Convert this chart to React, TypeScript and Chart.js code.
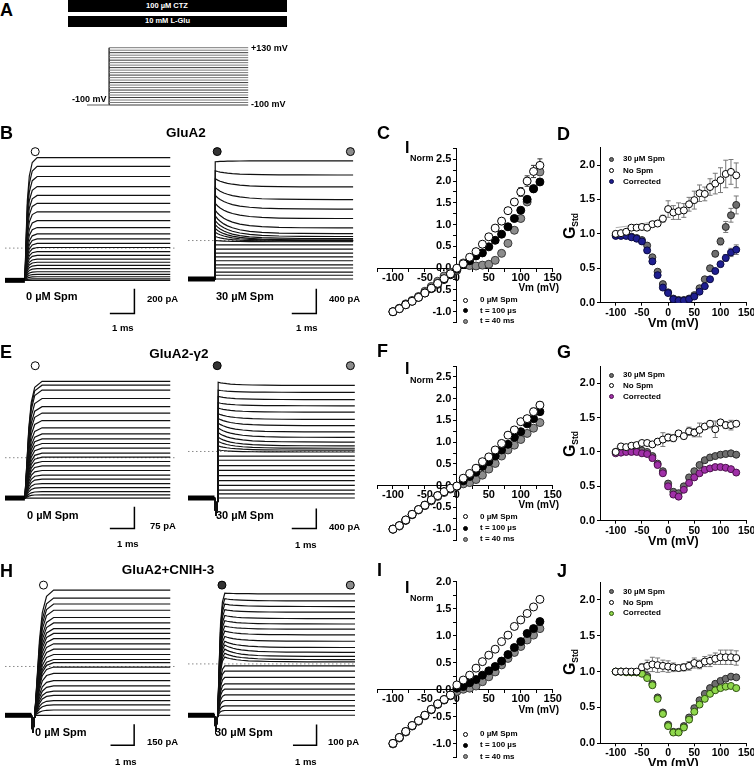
import React, { useEffect, useRef } from "react";
import { Chart, registerables } from "chart.js";

Chart.register(...registerables);

const FONT = "'Liberation Sans', Arial, Helvetica, sans-serif";
Chart.defaults.font.family = FONT;
Chart.defaults.color = "#000";

// ================= DATA =================
// Step potentials (mV), shared by every panel
const VM = [-100, -90, -80, -70, -60, -50, -40, -30, -20, -10, 0, 10, 20, 30, 40, 50, 60, 70, 80, 90, 100, 110, 120, 130];

// Panel A protocol
const PROTO_HOLD_MV = -100;
const PROTO_T = [0, 0.85, 6.2]; // hold start, step onset, step end (ms)

// Current traces (pA), one value per step potential
const B0_LEVELS = [-262, -250, -233, -213, -192, -167, -141, -115, -90, -59, -28, 5, 38, 75, 115, 167, 223, 295, 364, 428, 500, 582, 664, 736];
const B30_INIT = [-626, -565, -513, -447, -395, -329, -267, -205, -139, -72, 0, 66, 134, 195, 257, 323, 400, 493, 605, 734, 862, 1006, 1135, 1283];
const B30_FINAL = [-626, -565, -513, -447, -395, -329, -267, -205, -139, -72, -20, -10, 0, 10, 31, 66, 113, 205, 359, 513, 667, 873, 1067, 1298];
const E0_LEVELS = [-139, -128, -117, -103, -89, -74, -60, -44, -28, -13, 2, 16, 33, 49, 65, 82, 103, 128, 154, 176, 204, 233, 250, 263];
const E30_INIT = [-937, -855, -779, -684, -589, -486, -380, -285, -177, -95, 32, 114, 203, 285, 380, 475, 570, 665, 760, 874, 982, 1109, 1236, 1394];
const E30_FINAL = [-937, -855, -779, -684, -589, -486, -380, -285, -177, -95, -11, 27, 65, 114, 190, 285, 393, 520, 646, 792, 920, 1045, 1191, 1330];
const H0_LEVELS = [-351, -313, -276, -245, -208, -177, -140, -102, -50, -4, 27, 50, 86, 125, 163, 200, 238, 272, 313, 352, 404, 449, 492, 549];
const H30_INIT = [-247, -224, -202, -176, -149, -121, -96, -65, -35, -9, 33, 51, 71, 91, 109, 132, 158, 182, 208, 233, 261, 288, 314, 340];
const H30_FINAL = [-247, -224, -202, -176, -149, -121, -96, -65, -35, -9, 10, 21, 36, 56, 79, 109, 140, 167, 192, 218, 249, 276, 303, 337];

// Kinetic shape tables (ms after onset, fraction)
const B0_RISE_T = [0, 0.05, 0.1, 0.18, 0.3, 0.5];
const B0_RISE_F = [0, 0.35, 0.65, 0.85, 0.96, 1];
const E0_RISE_T = [0, 0.08, 0.16, 0.26, 0.4, 0.7];
const E0_RISE_F = [0, 0.3, 0.6, 0.82, 0.95, 1];
const H0_RISE_T = [0, 0.1, 0.2, 0.32, 0.5, 0.8];
const H0_RISE_F = [0, 0.3, 0.6, 0.82, 0.95, 1];
const H30_RISE_T = [0, 0.06, 0.12, 0.2, 0.3];
const H30_RISE_F = [0, 0.4, 0.75, 0.93, 1];
const FAST_RISE_T = [0, 0.01];
const FAST_RISE_F = [0, 1];
const SPM_DECAY_T = [0, 0.1, 0.2, 0.35, 0.5, 0.7, 1.0, 1.4, 1.9, 2.6, 3.5, 5.0];
const SPM_DECAY_F = [1, 0.83, 0.7, 0.55, 0.44, 0.33, 0.22, 0.13, 0.07, 0.03, 0.01, 0];
const DIP_T = [0.06, 0.14];

// Trace timing (ms), markers and scale bars (ms, pA)
const B0_TIMES = [0.81, 6.73];
const B30_TIMES = [1.1, 6.73];
const E0_TIMES = [0.81, 6.73];
const E30_TIMES = [1.08, 6.8];
const H0_TIMES = [1.12, 7.0];
const H30_TIMES = [1.12, 7.08];
const E30_DIP = -360;
const H0_DIP = -127;
const H30_DIP = -67;
const B0_MARKS = [{ x: 1.23, y: 784, k: "open" }];
const B30_MARKS = [{ x: 1.19, y: 1448, k: "dark" }, { x: 6.62, y: 1448, k: "gray" }];
const E0_MARKS = [{ x: 1.23, y: 317, k: "open" }];
const E30_MARKS = [{ x: 1.19, y: 1728, k: "dark" }, { x: 6.62, y: 1728, k: "gray" }];
const H0_MARKS = [{ x: 1.63, y: 585, k: "open" }];
const H30_MARKS = [{ x: 1.44, y: 379, k: "dark" }, { x: 6.88, y: 379, k: "gray" }];
const B0_BAR = { x: 5.27, y: -531, dx: 1, dy: 200 };
const B30_BAR = { x: 5.23, y: -1186, dx: 1, dy: 400 };
const E0_BAR = { x: 5.27, y: -244, dx: 1, dy: 75 };
const E30_BAR = { x: 5.23, y: -1549, dx: 1, dy: 400 };
const H0_BAR = { x: 5.47, y: -566, dx: 1, dy: 150 };
const H30_BAR = { x: 5.45, y: -391, dx: 1, dy: 100 };

// Panel C (GluA2 I-V, normalized)
const C_OPEN = [-1.0, -0.93, -0.84, -0.76, -0.67, -0.57, -0.46, -0.35, -0.24, -0.13, 0.0, 0.1, 0.25, 0.38, 0.55, 0.72, 0.92, 1.08, 1.32, 1.52, 1.75, 2.0, 2.22, 2.36];
const C_OPEN_ERR = [0, 0, 0, 0, 0, 0, 0, 0, 0, 0, 0, 0, 0, 0, 0, 0, 0, 0, 0.05, 0.07, 0.1, 0.12, 0.14, 0.15];
const C_T100 = [-1.0, -0.93, -0.84, -0.76, -0.67, -0.57, -0.47, -0.37, -0.26, -0.15, -0.02, 0.09, 0.17, 0.28, 0.35, 0.49, 0.64, 0.78, 0.95, 1.14, 1.33, 1.58, 1.82, 1.98];
const C_T40 = [-1.0, -0.92, -0.82, -0.74, -0.65, -0.53, -0.42, -0.3, -0.18, -0.1, -0.05, 0.12, 0.06, 0.05, 0.07, 0.09, 0.18, 0.34, 0.57, 0.87, 1.14, 1.52, 1.83, 2.21];

// Panel D (GluA2 conductance)
const D_SPM = [0.98, 0.98, 0.98, 0.96, 0.94, 0.91, 0.83, 0.66, 0.45, 0.27, 0.15, 0.06, 0.04, 0.04, 0.06, 0.11, 0.21, 0.34, 0.5, 0.71, 0.89, 1.1, 1.27, 1.42];
const D_SPM_ERR = [0, 0, 0, 0, 0, 0, 0, 0, 0, 0, 0, 0, 0, 0, 0, 0, 0, 0, 0.03, 0.04, 0.05, 0.08, 0.1, 0.13];
const D_NOSPM = [1.0, 1.01, 1.03, 1.09, 1.09, 1.1, 1.09, 1.14, 1.15, 1.22, 1.36, 1.31, 1.33, 1.34, 1.43, 1.49, 1.59, 1.58, 1.68, 1.73, 1.78, 1.87, 1.9, 1.85];
const D_NOSPM_ERR = [0.01, 0.01, 0.02, 0.02, 0.02, 0.02, 0.02, 0.03, 0.03, 0.05, 0.12, 0.1, 0.12, 0.1, 0.1, 0.13, 0.12, 0.1, 0.12, 0.15, 0.18, 0.2, 0.18, 0.18];
const D_CORR = [0.97, 0.97, 0.97, 0.95, 0.93, 0.89, 0.76, 0.6, 0.4, 0.22, 0.14, 0.05, 0.03, 0.03, 0.05, 0.09, 0.16, 0.24, 0.34, 0.46, 0.56, 0.65, 0.73, 0.77];
const D_CORR_ERR = [0, 0, 0, 0, 0, 0, 0, 0, 0, 0, 0, 0, 0, 0, 0, 0, 0, 0, 0, 0, 0.03, 0.05, 0.06, 0.07];
const D_FIT_V = [-100, -70, -40, -10, 0];
const D_FIT_G = [1.09, 1.12, 1.16, 1.22, 1.25];

// Panel F (GluA2-γ2 I-V)
const F_OPEN = [-1.0, -0.92, -0.79, -0.66, -0.55, -0.45, -0.33, -0.23, -0.14, -0.06, -0.01, 0.17, 0.28, 0.4, 0.55, 0.66, 0.82, 0.97, 1.16, 1.28, 1.47, 1.54, 1.7, 1.85];
const F_OPEN_ERR = [0, 0, 0, 0, 0, 0, 0, 0, 0, 0, 0, 0, 0, 0, 0, 0, 0, 0, 0, 0, 0.05, 0.07, 0.08, 0.07];
const F_T100 = [-1.0, -0.92, -0.79, -0.66, -0.55, -0.45, -0.33, -0.23, -0.14, -0.06, -0.01, 0.11, 0.21, 0.31, 0.44, 0.55, 0.68, 0.82, 0.95, 1.11, 1.24, 1.42, 1.54, 1.7];
const F_T40 = [-1.0, -0.93, -0.8, -0.67, -0.56, -0.46, -0.35, -0.25, -0.16, -0.08, -0.02, 0.04, 0.07, 0.14, 0.24, 0.38, 0.51, 0.68, 0.82, 0.93, 1.06, 1.2, 1.32, 1.45];

// Panel G (GluA2-γ2 conductance)
const G_SPM = [1.0, 1.03, 1.03, 1.03, 1.03, 1.02, 1.0, 0.94, 0.83, 0.72, 0.54, 0.42, 0.4, 0.5, 0.63, 0.72, 0.81, 0.88, 0.92, 0.94, 0.96, 0.97, 0.98, 0.96];
const G_NOSPM = [1.0, 1.08, 1.07, 1.09, 1.1, 1.13, 1.13, 1.11, 1.15, 1.18, 1.21, 1.2, 1.27, 1.23, 1.3, 1.28, 1.32, 1.37, 1.41, 1.33, 1.43, 1.39, 1.39, 1.41];
const G_NOSPM_ERR = [0.01, 0.02, 0.02, 0.02, 0.02, 0.02, 0.02, 0.03, 0.04, 0.1, 0.05, 0.05, 0.04, 0.04, 0.06, 0.06, 0.1, 0.04, 0.04, 0.12, 0.04, 0.05, 0.07, 0.04];
const G_CORR = [0.98, 0.99, 1.0, 1.0, 1.0, 0.98, 0.97, 0.91, 0.81, 0.69, 0.5, 0.38, 0.35, 0.45, 0.55, 0.63, 0.69, 0.74, 0.76, 0.78, 0.78, 0.77, 0.75, 0.7];
const G_FIT_V = [-100, -50, 0, 50, 100, 130];
const G_FIT_G = [1.07, 1.1, 1.2, 1.3, 1.38, 1.42];

// Panel I (GluA2+CNIH-3 I-V)
const I_OPEN = [-0.99, -0.88, -0.77, -0.66, -0.57, -0.47, -0.36, -0.26, -0.18, -0.1, 0.09, 0.18, 0.27, 0.4, 0.52, 0.64, 0.75, 0.89, 1.01, 1.17, 1.29, 1.41, 1.53, 1.67];
const I_OPEN_ERR = [0, 0, 0, 0, 0, 0, 0, 0, 0, 0, 0, 0, 0, 0, 0, 0, 0, 0, 0, 0, 0.05, 0.04, 0.04, 0.04];
const I_T100 = [-0.99, -0.88, -0.77, -0.66, -0.57, -0.47, -0.36, -0.26, -0.18, -0.1, 0.03, 0.06, 0.13, 0.19, 0.27, 0.35, 0.43, 0.53, 0.65, 0.78, 0.89, 1.04, 1.13, 1.26];
const I_T40 = [-1.0, -0.89, -0.78, -0.67, -0.58, -0.48, -0.37, -0.27, -0.19, -0.11, -0.03, 0.01, 0.03, 0.07, 0.15, 0.24, 0.33, 0.46, 0.58, 0.69, 0.8, 0.92, 1.01, 1.13];

// Panel J (GluA2+CNIH-3 conductance)
const J_SPM = [1.0, 1.0, 1.0, 0.99, 0.99, 0.99, 0.94, 0.83, 0.64, 0.43, 0.26, 0.16, 0.16, 0.24, 0.36, 0.49, 0.6, 0.69, 0.77, 0.83, 0.87, 0.9, 0.93, 0.92];
const J_SPM_ERR = [0, 0, 0, 0, 0, 0, 0, 0, 0, 0, 0, 0, 0, 0, 0, 0, 0, 0, 0, 0, 0.02, 0.03, 0.03, 0.03];
const J_NOSPM = [1.0, 1.0, 1.0, 1.0, 1.0, 1.06, 1.08, 1.1, 1.09, 1.08, 1.07, 1.06, 1.05, 1.06, 1.08, 1.12, 1.1, 1.14, 1.15, 1.18, 1.2, 1.2, 1.2, 1.19];
const J_NOSPM_ERR = [0.01, 0.01, 0.01, 0.01, 0.01, 0.05, 0.08, 0.1, 0.1, 0.08, 0.08, 0.06, 0.04, 0.05, 0.06, 0.07, 0.06, 0.07, 0.08, 0.08, 0.1, 0.1, 0.1, 0.1];
const J_CORR = [1.0, 1.0, 0.99, 0.99, 0.99, 0.97, 0.91, 0.81, 0.62, 0.41, 0.24, 0.15, 0.15, 0.22, 0.33, 0.44, 0.54, 0.62, 0.69, 0.74, 0.77, 0.79, 0.8, 0.77];

// ================= STYLE =================
const COL = {
  open: ["#ffffff", "#000000"],
  black: ["#000000", "#000000"],
  t40: ["#8c8c8c", "#3a3a3a"],
  spm: ["#6e6e6e", "#2a2a2a"],
  dCorr: ["#1e1e90", "#0a0a40"],
  gCorr: ["#a030a8", "#4a104a"],
  jCorr: ["#8fd84c", "#2e5010"],
};
const MARK_FILL: Record<string, string> = { open: "#ffffff", dark: "#333333", gray: "#8c8c8c" };

type Rect = { x: number; y: number; w: number; h: number };

const errorBarPlugin = {
  id: "errorBars",
  beforeDatasetsDraw(chart: any) {
    const ctx = chart.ctx;
    const xs = chart.scales.x;
    const ys = chart.scales.y;
    chart.data.datasets.forEach((ds: any) => {
      if (!ds.errorBars) return;
      ctx.save();
      ctx.strokeStyle = ds.errorColor || "#777";
      ctx.lineWidth = 1;
      ds.data.forEach((p: any, i: number) => {
        const e = ds.errorBars[i];
        if (!e) return;
        const px = xs.getPixelForValue(p.x);
        const y1 = ys.getPixelForValue(p.y - e);
        const y2 = ys.getPixelForValue(p.y + e);
        ctx.beginPath();
        ctx.moveTo(px, y1);
        ctx.lineTo(px, y2);
        ctx.moveTo(px - 2.5, y1);
        ctx.lineTo(px + 2.5, y1);
        ctx.moveTo(px - 2.5, y2);
        ctx.lineTo(px + 2.5, y2);
        ctx.stroke();
      });
      ctx.restore();
    });
  },
};

function ChartBox({ rect, build }: { rect: Rect; build: () => any }) {
  const ref = useRef<HTMLCanvasElement | null>(null);
  useEffect(() => {
    const chart = new Chart(ref.current as HTMLCanvasElement, build());
    return () => chart.destroy();
  }, []);
  return (
    <canvas
      ref={ref}
      width={rect.w}
      height={rect.h}
      style={{ position: "absolute", left: rect.x, top: rect.y, width: rect.w, height: rect.h }}
    />
  );
}

// ---------- traces ----------
type TraceSpec = {
  rect: Rect;
  zeroY: number;
  pAPerPx: number;
  msPerPx: number;
  times: number[];
  init: number[];
  final: number[];
  riseT: number[];
  riseF: number[];
  dip: number;
  marks: { x: number; y: number; k: string }[];
  bar: { x: number; y: number; dx: number; dy: number };
};

function buildTrace(s: TraceSpec, init: number, fin: number) {
  const base = s.final[0];
  const tStep = s.times[0];
  const pts: { x: number; y: number }[] = [{ x: 0, y: base }, { x: tStep, y: base }];
  let t0 = tStep;
  if (s.dip) {
    pts.push({ x: t0 + DIP_T[0], y: base + s.dip });
    pts.push({ x: t0 + DIP_T[1], y: base });
    t0 += DIP_T[1];
  }
  for (let k = 1; k < s.riseT.length; k++) pts.push({ x: t0 + s.riseT[k], y: base + (init - base) * s.riseF[k] });
  const t1 = t0 + s.riseT[s.riseT.length - 1];
  if (init !== fin) {
    for (let k = 1; k < SPM_DECAY_T.length; k++) pts.push({ x: t1 + SPM_DECAY_T[k], y: fin + (init - fin) * SPM_DECAY_F[k] });
  }
  pts.push({ x: s.times[1], y: fin });
  return pts;
}

function traceConfig(s: TraceSpec) {
  const xmax = s.rect.w * s.msPerPx;
  const ymax = (s.zeroY - s.rect.y) * s.pAPerPx;
  const ymin = (s.zeroY - s.rect.y - s.rect.h) * s.pAPerPx;
  const base = s.final[0];
  const datasets: any[] = [];
  datasets.push({
    data: [{ x: 0, y: 0 }, { x: xmax, y: 0 }],
    showLine: true, borderColor: "#8a8a8a", borderWidth: 1, borderDash: [1.5, 2.5], pointRadius: 0, order: 50,
  });
  s.init.forEach((ini, i) => {
    datasets.push({
      data: buildTrace(s, ini, s.final[i]),
      showLine: true, borderColor: "#111", borderWidth: 1.2, pointRadius: 0, order: 10,
    });
  });
  datasets.push({
    data: [{ x: 0, y: base }, { x: s.times[0], y: base }],
    showLine: true, borderColor: "#000", borderWidth: 5, pointRadius: 0, order: 5,
  });
  datasets.push({
    data: [
      { x: s.bar.x - s.bar.dx, y: s.bar.y },
      { x: s.bar.x, y: s.bar.y },
      { x: s.bar.x, y: s.bar.y + s.bar.dy },
    ],
    showLine: true, borderColor: "#000", borderWidth: 1.5, borderJoinStyle: "miter", pointRadius: 0, order: 5,
  });
  datasets.push({
    data: s.marks.map((m) => ({ x: m.x, y: m.y })),
    showLine: false, pointRadius: 4, pointHoverRadius: 4,
    pointBackgroundColor: s.marks.map((m) => MARK_FILL[m.k]), pointBorderColor: "#000", pointBorderWidth: 1, order: 1,
  });
  return {
    type: "scatter",
    data: { datasets },
    options: {
      animation: false, responsive: false, maintainAspectRatio: false,
      layout: { padding: 0 },
      plugins: { legend: { display: false }, tooltip: { enabled: false } },
      scales: {
        x: { type: "linear", display: false, min: 0, max: xmax },
        y: { type: "linear", display: false, min: ymin, max: ymax },
      },
    },
  };
}

// ---------- protocol ----------
function protocolConfig() {
  const rect = PROTO_RECT;
  const msPerPx = 1 / 26;
  const mvPerPx = 230 / 57.3;
  const ymax = 130 + (47.7 - rect.y) * mvPerPx;
  const ymin = -100 - (rect.y + rect.h - 105) * mvPerPx;
  const datasets: any[] = VM.map((v, i) => ({
    data: [{ x: PROTO_T[1], y: v }, { x: PROTO_T[2], y: v }],
    showLine: true, borderColor: i % 3 === 0 ? "#3a3a3a" : "#7a7a7a", borderWidth: 1, pointRadius: 0,
  }));
  datasets.push({
    data: [{ x: PROTO_T[0], y: PROTO_HOLD_MV }, { x: PROTO_T[1], y: PROTO_HOLD_MV }],
    showLine: true, borderColor: "#777", borderWidth: 1.2, pointRadius: 0,
  });
  datasets.push({
    data: [{ x: PROTO_T[1], y: PROTO_HOLD_MV }, { x: PROTO_T[1], y: VM[VM.length - 1] }],
    showLine: true, borderColor: "#000", borderWidth: 1.2, pointRadius: 0,
  });
  return {
    type: "scatter",
    data: { datasets },
    options: {
      animation: false, responsive: false,
      layout: { padding: 0 },
      plugins: { legend: { display: false }, tooltip: { enabled: false } },
      scales: {
        x: { type: "linear", display: false, min: 0, max: rect.w * msPerPx },
        y: { type: "linear", display: false, min: ymin, max: ymax },
      },
    },
  };
}

// ---------- scatter helpers ----------
function pts(ys: number[]) {
  return VM.map((v, i) => ({ x: v, y: ys[i] }));
}
function markerSet(ys: number[], col: string[], r: number, order: number, err?: number[], errColor?: string) {
  return {
    data: pts(ys), showLine: false, pointRadius: r, pointHoverRadius: r,
    pointBackgroundColor: col[0], pointBorderColor: col[1], pointBorderWidth: 1,
    order, errorBars: err, errorColor: errColor,
  };
}
function fitSet(xs: number[], ys: number[]) {
  return {
    data: xs.map((x, i) => ({ x, y: ys[i] })), showLine: true, borderColor: "#b0b0b0", borderWidth: 1,
    pointRadius: 0, order: 20,
  };
}

const TICK_FONT = { size: 11, weight: "bold", family: FONT } as any;

function ivConfig(rect: Rect, area: { l: number; t: number; r: number; b: number }, ymin: number, ymax: number, datasets: any[]) {
  const isHalf = (v: number) => Math.abs(v * 2 - Math.round(v * 2)) < 1e-6;
  return {
    type: "scatter",
    data: { datasets },
    plugins: [errorBarPlugin],
    options: {
      animation: false, responsive: false,
      layout: {
        padding: { left: area.l - rect.x, top: area.t - rect.y, right: rect.x + rect.w - area.r, bottom: rect.y + rect.h - area.b },
      },
      plugins: { legend: { display: false }, tooltip: { enabled: false } },
      scales: {
        x: {
          type: "linear", axis: "x", position: { y: 0 }, min: -125, max: 150,
          grid: { drawOnChartArea: false, drawTicks: true, tickLength: 3, color: "#000" },
          border: { display: true, color: "#000", width: 1 },
          ticks: {
            stepSize: 25, autoSkip: false, maxRotation: 0, padding: 0, color: "#000", font: TICK_FONT,
            callback: (v: any) => (Math.abs(v % 50) < 1e-6 ? String(v) : ""),
          },
        },
        y: {
          type: "linear", axis: "y", position: { x: 0 }, min: ymin, max: ymax,
          grid: { drawOnChartArea: false, drawTicks: true, tickLength: 3, color: "#000" },
          border: { display: true, color: "#000", width: 1 },
          ticks: {
            stepSize: 0.25, autoSkip: false, padding: 0, color: "#000", font: TICK_FONT,
            callback: (v: any) => (isHalf(v) ? Number(v).toFixed(1) + "\u2002" : ""),
          },
        },
      },
    },
  };
}

function gConfig(rect: Rect, area: { l: number; t: number; r: number; b: number }, xh: number, datasets: any[]) {
  return {
    type: "scatter",
    data: { datasets },
    plugins: [errorBarPlugin],
    options: {
      animation: false, responsive: false,
      layout: {
        padding: { left: 0, top: area.t - rect.y, right: rect.x + rect.w - area.r, bottom: rect.y + rect.h - area.b - xh },
      },
      plugins: { legend: { display: false }, tooltip: { enabled: false } },
      scales: {
        x: {
          type: "linear", position: "bottom", min: -130, max: 150,
          afterFit: (s: any) => { s.height = xh; },
          grid: { drawOnChartArea: false, drawTicks: true, tickLength: 3, color: "#000" },
          border: { display: true, color: "#000", width: 1 },
          ticks: { stepSize: 50, includeBounds: false, autoSkip: false, maxRotation: 0, padding: 1, color: "#000", font: { size: 10.5, weight: "bold", family: FONT } },
          title: { display: true, text: "Vm (mV)", color: "#000", padding: 0, font: { size: 12.5, weight: "bold", family: FONT } },
        },
        y: {
          type: "linear", position: "left", min: 0, max: 2.25,
          afterFit: (s: any) => { s.width = area.l - rect.x; },
          grid: { drawOnChartArea: false, drawTicks: true, tickLength: 3, color: "#000" },
          border: { display: true, color: "#000", width: 1 },
          ticks: { stepSize: 0.5, includeBounds: false, autoSkip: false, padding: 2, color: "#000", font: TICK_FONT, callback: (v: any) => Number(v).toFixed(1) },
        },
      },
    },
  };
}

// ================= LAYOUT =================
const PROTO_RECT = { x: 87, y: 42, w: 175, h: 70 };

const TRACE_SPECS: TraceSpec[] = [
  { rect: { x: 0, y: 140, w: 180, h: 185 }, zeroY: 249, pAPerPx: 7.69, msPerPx: 1 / 26, times: B0_TIMES, init: B0_LEVELS, final: B0_LEVELS, riseT: B0_RISE_T, riseF: B0_RISE_F, dip: 0, marks: B0_MARKS, bar: B0_BAR },
  { rect: { x: 183, y: 140, w: 177, h: 185 }, zeroY: 241, pAPerPx: 15.4, msPerPx: 1 / 26, times: B30_TIMES, init: B30_INIT, final: B30_FINAL, riseT: FAST_RISE_T, riseF: FAST_RISE_F, dip: 0, marks: B30_MARKS, bar: B30_BAR },
  { rect: { x: 0, y: 355, w: 180, h: 185 }, zeroY: 458.3, pAPerPx: 3.26, msPerPx: 1 / 26, times: E0_TIMES, init: E0_LEVELS, final: E0_LEVELS, riseT: E0_RISE_T, riseF: E0_RISE_F, dip: 0, marks: E0_MARKS, bar: E0_BAR },
  { rect: { x: 183, y: 355, w: 177, h: 185 }, zeroY: 451.7, pAPerPx: 19.05, msPerPx: 1 / 26, times: E30_TIMES, init: E30_INIT, final: E30_FINAL, riseT: FAST_RISE_T, riseF: FAST_RISE_F, dip: E30_DIP, marks: E30_MARKS, bar: E30_BAR },
  { rect: { x: 0, y: 570, w: 180, h: 185 }, zeroY: 666.7, pAPerPx: 6.8, msPerPx: 1 / 25, times: H0_TIMES, init: H0_LEVELS, final: H0_LEVELS, riseT: H0_RISE_T, riseF: H0_RISE_F, dip: H0_DIP, marks: H0_MARKS, bar: H0_BAR },
  { rect: { x: 183, y: 570, w: 177, h: 185 }, zeroY: 664, pAPerPx: 4.55, msPerPx: 1 / 25, times: H30_TIMES, init: H30_INIT, final: H30_FINAL, riseT: H30_RISE_T, riseF: H30_RISE_F, dip: H30_DIP, marks: H30_MARKS, bar: H30_BAR },
];

const IV_SPECS = [
  {
    rect: { x: 360, y: 138, w: 205, h: 195 }, area: { l: 377, t: 148.4, r: 552.7, b: 322.6 }, ymin: -1.25, ymax: 2.75,
    ds: () => [markerSet(C_T40, COL.t40, 4, 3), markerSet(C_T100, COL.black, 4, 2), markerSet(C_OPEN, COL.open, 4, 1, C_OPEN_ERR, "#333")],
  },
  {
    rect: { x: 360, y: 356, w: 205, h: 195 }, area: { l: 377, t: 366, r: 552.7, b: 540 }, ymin: -1.25, ymax: 2.75,
    ds: () => [markerSet(F_T40, COL.t40, 4, 3), markerSet(F_T100, COL.black, 4, 2), markerSet(F_OPEN, COL.open, 4, 1, F_OPEN_ERR, "#333")],
  },
  {
    rect: { x: 360, y: 571, w: 205, h: 195 }, area: { l: 377, t: 581.5, r: 552.7, b: 757.5 }, ymin: -1.25, ymax: 2.0,
    ds: () => [markerSet(I_T40, COL.t40, 4, 3), markerSet(I_T100, COL.black, 4, 2), markerSet(I_OPEN, COL.open, 4, 1, I_OPEN_ERR, "#555")],
  },
];

const G_SPECS = [
  {
    rect: { x: 540, y: 138, w: 220, h: 193 }, area: { l: 600, t: 147.8, r: 746.7, b: 302.7 }, xh: 28.1,
    ds: () => [fitSet(D_FIT_V, D_FIT_G), markerSet(D_SPM, COL.spm, 3.5, 3, D_SPM_ERR), markerSet(D_CORR, COL.dCorr, 3.5, 2, D_CORR_ERR), markerSet(D_NOSPM, COL.open, 3.5, 1, D_NOSPM_ERR)],
  },
  {
    rect: { x: 540, y: 356, w: 220, h: 194 }, area: { l: 600, t: 366, r: 746.7, b: 520.7 }, xh: 28.8,
    ds: () => [fitSet(G_FIT_V, G_FIT_G), markerSet(G_SPM, COL.spm, 3.5, 3), markerSet(G_CORR, COL.gCorr, 3.5, 2), markerSet(G_NOSPM, COL.open, 3.5, 1, G_NOSPM_ERR)],
  },
  {
    rect: { x: 540, y: 572, w: 220, h: 200 }, area: { l: 600, t: 582, r: 746.7, b: 743.3 }, xh: 28.2,
    ds: () => [markerSet(J_SPM, COL.spm, 3.5, 3, J_SPM_ERR), markerSet(J_CORR, COL.jCorr, 3.5, 2), markerSet(J_NOSPM, COL.open, 3.5, 1, J_NOSPM_ERR)],
  },
];

// ================= TEXT HELPERS =================
function T({ x, y, s, text, align = "left", color = "#000", w = "bold" }: any) {
  const tx = align === "left" ? "0" : align === "center" ? "-50%" : "-100%";
  return (
    <div
      style={{
        position: "absolute", left: x, top: y, transform: `translate(${tx},-50%)`, fontSize: s, fontWeight: w,
        lineHeight: 1, whiteSpace: "nowrap", color, fontFamily: FONT,
      }}
    >
      {text}
    </div>
  );
}

function Dot({ x, y, col, r = 2.5 }: any) {
  return (
    <div
      style={{
        position: "absolute", left: x - r, top: y - r, width: r * 2, height: r * 2, borderRadius: "50%",
        background: col[0], border: `1px solid ${col[1]}`, boxSizing: "border-box",
      }}
    />
  );
}

function INorm({ x, y }: { x: number; y: number }) {
  return (
    <>
      <T x={x} y={y} s={16} text="I" />
      <T x={x + 5} y={y + 10.5} s={9} text="Norm" />
    </>
  );
}

function GStd({ x, y }: { x: number; y: number }) {
  return (
    <div
      style={{
        position: "absolute", left: x, top: y, transform: "translate(-50%,-50%) rotate(-90deg)", whiteSpace: "nowrap",
        fontFamily: FONT, fontWeight: "bold", lineHeight: 1,
      }}
    >
      <span style={{ fontSize: 16 }}>G</span>
      <span style={{ fontSize: 8.5, verticalAlign: -3 }}>Std</span>
    </div>
  );
}

const IV_LEGEND_ROWS = [
  { col: COL.open, text: "0 \u00b5M Spm" },
  { col: COL.black, text: "t = 100 \u00b5s" },
  { col: COL.t40, text: "t = 40 ms" },
];

function IvLegend({ ys }: { ys: number[] }) {
  return (
    <>
      {IV_LEGEND_ROWS.map((r, i) => (
        <React.Fragment key={i}>
          <Dot x={465} y={ys[i]} col={r.col} />
          <T x={480} y={ys[i]} s={8} text={r.text} />
        </React.Fragment>
      ))}
    </>
  );
}

function GLegend({ ys, corr }: { ys: number[]; corr: string[] }) {
  const rows = [
    { col: COL.spm, text: "30 \u00b5M Spm" },
    { col: COL.open, text: "No Spm" },
    { col: corr, text: "Corrected" },
  ];
  return (
    <>
      {rows.map((r, i) => (
        <React.Fragment key={i}>
          <Dot x={611} y={ys[i]} col={r.col} />
          <T x={623} y={ys[i]} s={8} text={r.text} />
        </React.Fragment>
      ))}
    </>
  );
}

export default function App() {
  return (
    <div
      style={{
        position: "absolute", left: 0, top: 0, width: 754, height: 766, overflow: "hidden", background: "#fff",
        fontFamily: FONT,
      }}
    >
      {/* Panel A */}
      <div style={{ position: "absolute", left: 68, top: 0, width: 219, height: 11.5, background: "#000" }} />
      <div style={{ position: "absolute", left: 68, top: 15.7, width: 219, height: 11, background: "#000" }} />
      <T x={167} y={5.8} s={7.5} text={"100 \u00b5M CTZ"} align="center" color="#fff" />
      <T x={167.5} y={21.3} s={7.5} text="10 mM L-Glu" align="center" color="#fff" />
      <ChartBox rect={PROTO_RECT} build={protocolConfig} />
      <T x={251} y={47.7} s={9} text="+130 mV" />
      <T x={251} y={103.5} s={9} text="-100 mV" />
      <T x={72} y={99} s={9} text="-100 mV" />

      {/* Traces */}
      {TRACE_SPECS.map((s, i) => (
        <ChartBox key={"tr" + i} rect={s.rect} build={() => traceConfig(s)} />
      ))}

      {/* IV plots */}
      {IV_SPECS.map((s, i) => (
        <ChartBox key={"iv" + i} rect={s.rect} build={() => ivConfig(s.rect, s.area, s.ymin, s.ymax, s.ds())} />
      ))}

      {/* Conductance plots */}
      {G_SPECS.map((s, i) => (
        <ChartBox key={"g" + i} rect={s.rect} build={() => gConfig(s.rect, s.area, s.xh, s.ds())} />
      ))}

      {/* Panel letters */}
      <T x={0} y={9.5} s={18} text="A" />
      <T x={0} y={133} s={18} text="B" />
      <T x={377} y={133} s={18} text="C" />
      <T x={557} y={134} s={18} text="D" />
      <T x={0} y={352} s={18} text="E" />
      <T x={377} y={351} s={18} text="F" />
      <T x={557} y={352} s={18} text="G" />
      <T x={0} y={571} s={18} text="H" />
      <T x={377} y={570} s={18} text="I" />
      <T x={557} y={571} s={18} text="J" />

      {/* Titles */}
      <T x={186} y={133} s={13.5} text="GluA2" align="center" />
      <T x={179} y={354} s={13.5} text={"GluA2-\u03b32"} align="center" />
      <T x={168} y={570} s={13.5} text="GluA2+CNIH-3" align="center" />

      {/* Trace labels */}
      <T x={26} y={296} s={11} text={"0 \u00b5M Spm"} />
      <T x={216} y={296} s={11} text={"30 \u00b5M Spm"} />
      <T x={147} y={299} s={9.5} text="200 pA" />
      <T x={112} y={327.5} s={9.5} text="1 ms" />
      <T x={329} y={299} s={9.5} text="400 pA" />
      <T x={296} y={327.5} s={9.5} text="1 ms" />

      <T x={27} y={515} s={11} text={"0 \u00b5M Spm"} />
      <T x={216} y={515} s={11} text={"30 \u00b5M Spm"} />
      <T x={150} y={526} s={9.5} text="75 pA" />
      <T x={117} y={544} s={9.5} text="1 ms" />
      <T x={329} y={527} s={9.5} text="400 pA" />
      <T x={295} y={545} s={9.5} text="1 ms" />

      <T x={35} y={732} s={11} text={"0 \u00b5M Spm"} />
      <T x={215} y={732} s={11} text={"30 \u00b5M Spm"} />
      <T x={147} y={742} s={9.5} text="150 pA" />
      <T x={115} y={762} s={9.5} text="1 ms" />
      <T x={328} y={742} s={9.5} text="100 pA" />
      <T x={295} y={762} s={9.5} text="1 ms" />

      {/* IV annotations */}
      <INorm x={405} y={147.5} />
      <INorm x={405} y={369} />
      <INorm x={405} y={587.5} />
      <T x={559} y={288} s={10} text="Vm (mV)" align="right" />
      <T x={559} y={505} s={10} text="Vm (mV)" align="right" />
      <T x={559} y={710} s={10} text="Vm (mV)" align="right" />
      <IvLegend ys={[300, 310.5, 321]} />
      <IvLegend ys={[516.7, 528, 539.3]} />
      <IvLegend ys={[734, 745, 756.5]} />

      {/* Conductance annotations */}
      <GStd x={571} y={226} />
      <GStd x={571} y={444} />
      <GStd x={571} y={662} />
      <GLegend ys={[159.3, 170.7, 181.7]} corr={COL.dCorr} />
      <GLegend ys={[375, 385.7, 396.7]} corr={COL.gCorr} />
      <GLegend ys={[591.7, 602.7, 613.3]} corr={COL.jCorr} />
    </div>
  );
}
